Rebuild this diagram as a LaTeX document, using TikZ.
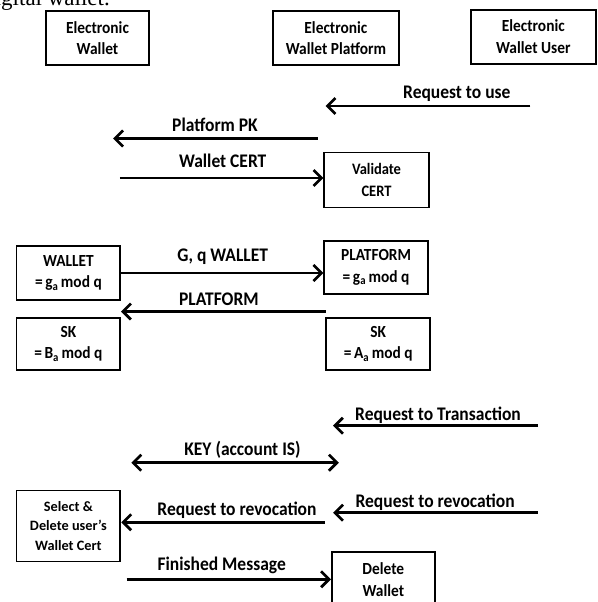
\documentclass[tikz,border=0pt]{standalone}
\usepackage{graphicx}
\usepackage{fontspec}
\setmainfont{Carlito}
\newfontfamily\serifbody{Liberation Serif}
\usetikzlibrary{arrows.meta}
% slightly tall lettering used throughout the chart
\newcommand\tallA[1]{\scalebox{1}[1.1]{#1}}
\begin{document}
\begin{tikzpicture}[x=1pt,y=-1pt,
  box/.style={draw, line width=1.8pt, inner sep=0pt, align=center,
    font=\bfseries\fontsize{15.4}{21.5}\selectfont},
  msg/.style={line width=2.7pt, -{Straight Barb[length=8pt,width=16pt]}},
  both/.style={line width=2.7pt, {Straight Barb[length=8pt,width=16pt]}-{Straight Barb[length=8pt,width=16pt]}},
  lbl/.style={font=\bfseries\fontsize{17.5}{20}\selectfont, inner sep=0pt, anchor=base}]
\useasboundingbox (0,0) rectangle (597,602);

% running text of the page above the figure
\node[font=\serifbody\fontsize{23}{27}\selectfont, anchor=base east, inner sep=0pt] (cap) at (110,6) {digital wallet.};

% parties
\node[box, minimum width=103.5pt, minimum height=54pt] (ew)  at (97.5,38)  {\tallA{Electronic}\\\tallA{Wallet}};
\node[box, minimum width=126pt,   minimum height=54pt] (ewp) at (335.9,38) {\tallA{Electronic}\\\tallA{Wallet Platform}};
\node[box, minimum width=124.8pt, minimum height=54pt] (ewu) at (533.3,36.8) {\tallA{Electronic}\\\tallA{Wallet User}};

% certificate check
\node[box, font=\bfseries\fontsize{14.5}{21.5}\selectfont, minimum width=104.3pt, minimum height=55pt] (val) at (376.5,180) {\tallA{Validate}\\\tallA{CERT}};

% key agreement
\node[box, minimum width=103.9pt, minimum height=54pt] (wal)  at (68.4,273)   {\tallA{WALLET}\\\tallA{=\,g\textsubscript{a}\,mod q}};
\node[box, minimum width=103.6pt, minimum height=53pt] (plat) at (376.1,267.5) {\tallA{PLATFORM}\\\tallA{=\,g\textsubscript{a}\,mod q}};
\node[box, minimum width=103.9pt, minimum height=52.7pt] (skl) at (68.4,344)  {\tallA{SK}\\\tallA{=\,B\textsubscript{a}\,mod q}};
\node[box, minimum width=103.9pt, minimum height=52.7pt] (skr) at (378.2,344) {\tallA{SK}\\\tallA{=\,A\textsubscript{a}\,mod q}};

% revocation
\node[box, font=\bfseries\fontsize{14.3}{19.5}\selectfont, minimum width=103.9pt, minimum height=71pt] (sel) at (68.4,526) {Select \&\\Delete user’s\\Wallet Cert};
\node[box, minimum width=102.8pt, minimum height=56pt] (del) at (383.3,579.7) {\tallA{Delete}\\\tallA{Wallet}};

% free ends of the messages
\coordinate (u1) at (530.3,106);   \coordinate (p1) at (325.5,106);
\coordinate (p2) at (317.9,138.5); \coordinate (w2) at (113.1,138.5);
\coordinate (w3) at (119.9,178);
\coordinate (p4) at (325.5,311.5); \coordinate (w4) at (121,311.5);
\coordinate (u5) at (538,425.7);   \coordinate (p5) at (333,425.7);
\coordinate (w6) at (131.3,462.7); \coordinate (p6) at (338.8,462.7);
\coordinate (p7) at (324.5,522.3);
\coordinate (u8) at (537.5,512.7); \coordinate (p8) at (333.1,512.7);
\coordinate (w9) at (126.7,579.3);

% messages
\draw[msg] (u1) -- (p1);
\draw[msg] (p2) -- (w2);
\draw[msg] (w3) -- (w3 -| val.west);
\draw[msg] (wal.east) -- (wal.east -| plat.west);
\draw[msg] (p4) -- (w4);
\draw[msg] (u5) -- (p5);
\draw[both] (w6) -- (p6);
\draw[msg] (p7) -- (p7 -| sel.east);
\draw[msg] (u8) -- (p8);
\draw[msg] (w9) -- (w9 -| del.west);

% message labels
\node[lbl] (l1) at (456.8,98.5)  {\tallA{Request to use}};
\node[lbl] (l2) at (215,131.5)   {\tallA{Platform PK}};
\node[lbl] (l3) at (222.7,167.5) {\tallA{Wallet CERT}};
\node[lbl] (l4) at (222.7,261)   {\tallA{G, q WALLET}};
\node[lbl] (l5) at (218.9,305.5) {\tallA{PLATFORM}};
\node[lbl] (l6) at (438,420)     {\tallA{Request to Transaction}};
\node[lbl] (l7) at (242.5,455.5) {\tallA{KEY (account IS)}};
\node[lbl] (l8) at (237,515)     {\tallA{Request to revocation}};
\node[lbl] (l9) at (435.1,507)   {\tallA{Request to revocation}};
\node[lbl] (l10) at (221.7,570)  {\tallA{Finished Message}};
\end{tikzpicture}
\end{document}
